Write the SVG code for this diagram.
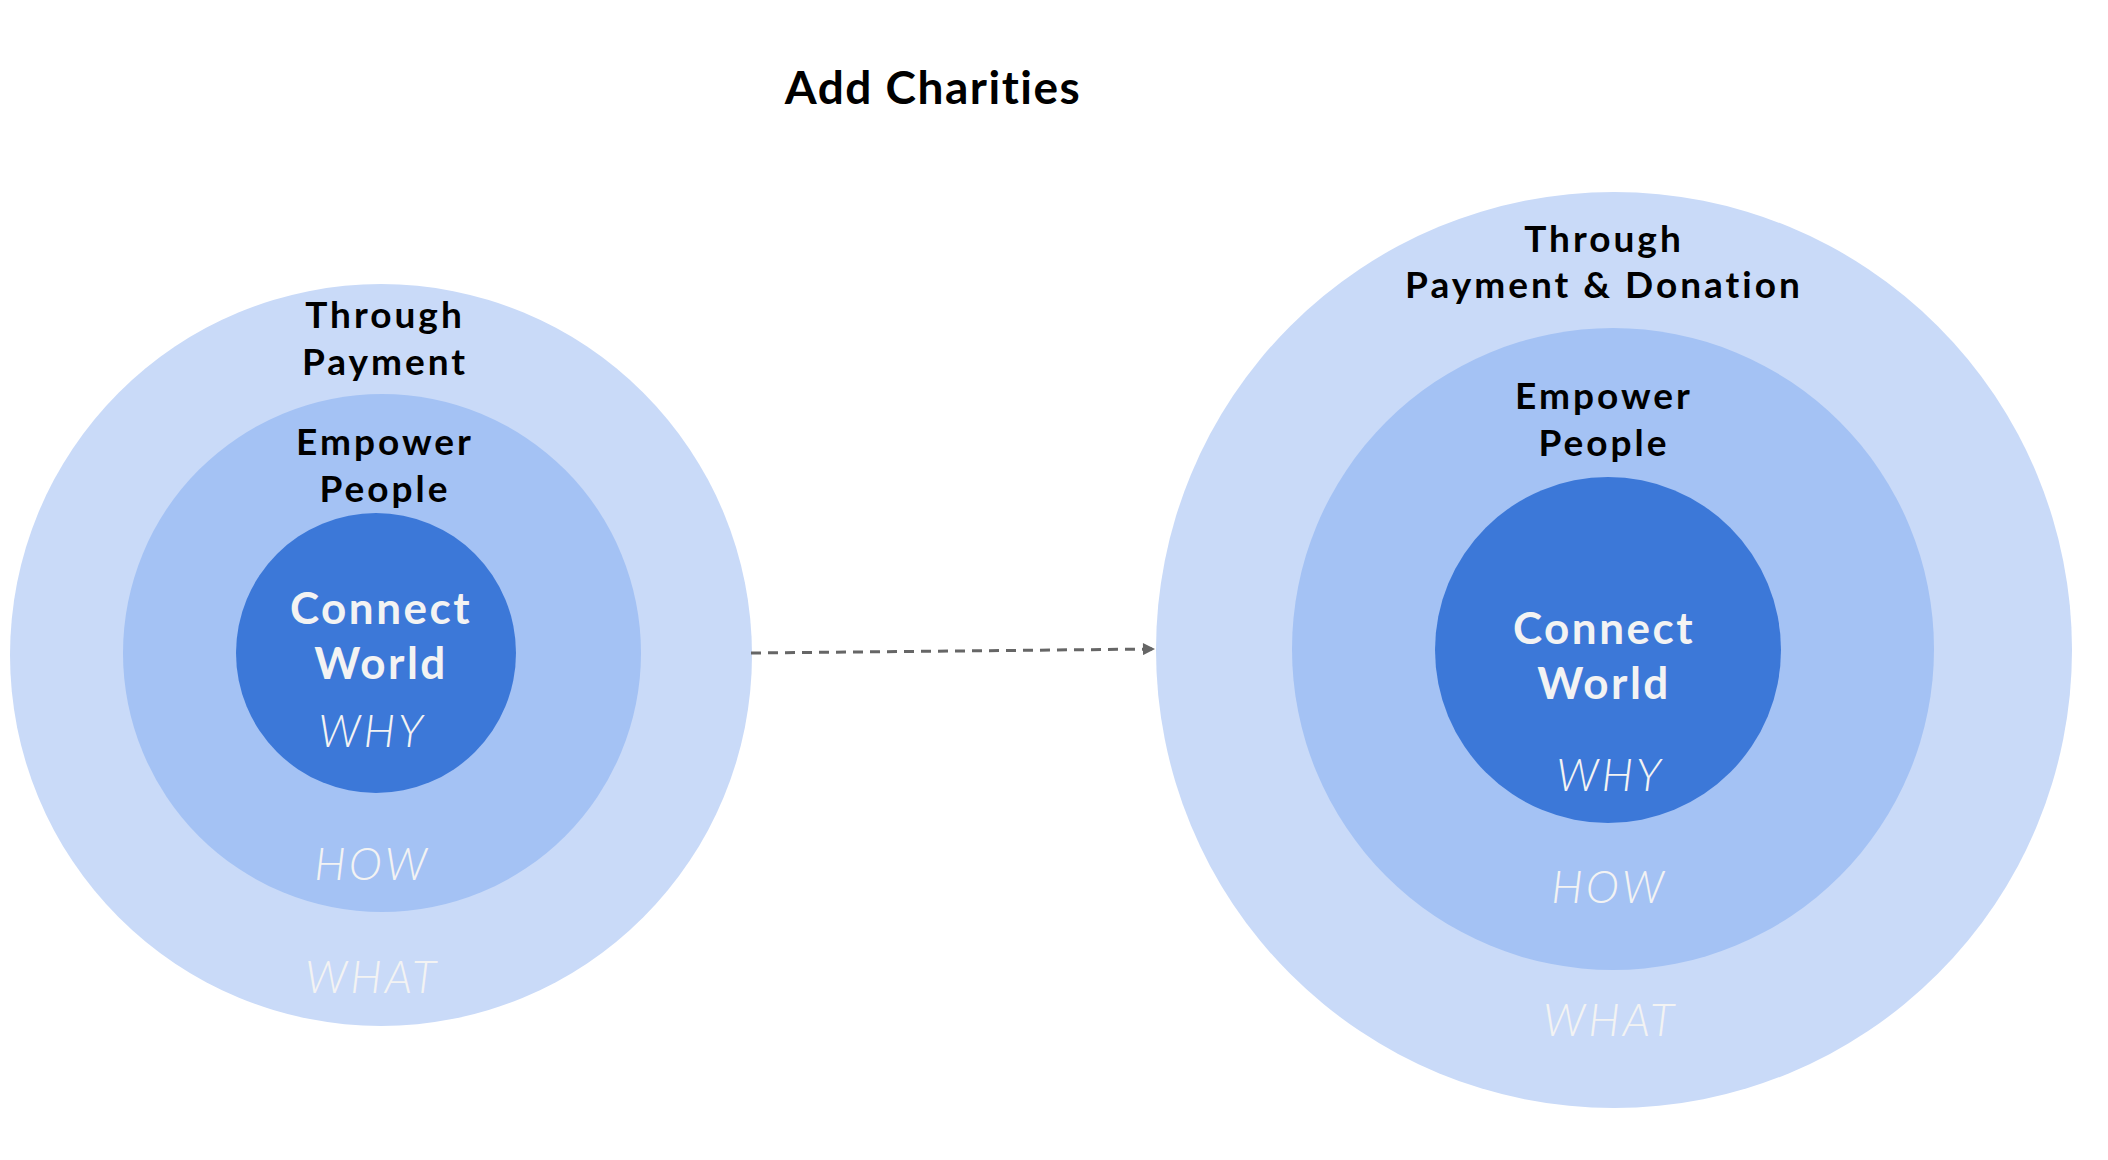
<svg xmlns="http://www.w3.org/2000/svg" width="2108" height="1160" viewBox="0 0 2108 1160">
<defs>
<style>
.outer{fill:#c9daf8}
.mid{fill:#a4c2f4}
.core{fill:#3c78d8}
.lbl{font-family:"Lato","Noto Sans",sans-serif;font-weight:700;font-size:37px;letter-spacing:3px;fill:#000;text-anchor:middle}
.core-t{font-family:"Lato","Noto Sans",sans-serif;font-weight:700;font-size:44px;letter-spacing:2.5px;fill:#f3f3f3;text-anchor:middle}
.tag{font-family:"Lato","Noto Sans",sans-serif;font-weight:300;font-style:italic;font-size:45px;letter-spacing:3px;fill:#f3f3f3;text-anchor:middle}
.title{font-family:"Lato","Noto Sans",sans-serif;font-weight:700;font-size:46px;letter-spacing:1.5px;fill:#000;text-anchor:middle}
.conn{fill:none;stroke:#666;stroke-width:3;stroke-dasharray:10 7}
</style>
<marker id="arrow" viewBox="0 0 10 10" refX="10" refY="5" markerWidth="5" markerHeight="4" markerUnits="strokeWidth" orient="auto">
<path d="M0,0 L10,5 L0,10 z" fill="#666"/>
</marker>
</defs>
<rect width="2108" height="1160" fill="#fff"/>
<g id="title"><text class="title" x="933" y="104">Add Charities</text></g>
<g id="left-what"><circle class="outer" cx="381" cy="655" r="371"/>
<text class="lbl" x="385" y="328">Through</text><text class="lbl" x="385" y="375">Payment</text>
<text class="tag" x="372" y="993">WHAT</text></g>
<g id="left-how"><circle class="mid" cx="382" cy="653" r="259"/>
<text class="lbl" x="385" y="455">Empower</text><text class="lbl" x="385" y="502">People</text>
<text class="tag" x="372" y="880">HOW</text></g>
<g id="left-why"><circle class="core" cx="376" cy="653" r="140"/>
<text class="core-t" x="381" y="624">Connect</text><text class="core-t" x="381" y="679">World</text>
<text class="tag" x="372" y="747">WHY</text></g>
<g id="right-what"><circle class="outer" cx="1614" cy="650" r="458"/>
<text class="lbl" x="1604" y="252">Through</text><text class="lbl" x="1604" y="298">Payment &amp; Donation</text>
<text class="tag" x="1610" y="1036">WHAT</text></g>
<g id="right-how"><circle class="mid" cx="1613" cy="649" r="321"/>
<text class="lbl" x="1604" y="409">Empower</text><text class="lbl" x="1604" y="456">People</text>
<text class="tag" x="1609" y="903">HOW</text></g>
<g id="right-why"><circle class="core" cx="1608" cy="650" r="173"/>
<text class="core-t" x="1604" y="644">Connect</text><text class="core-t" x="1604" y="699">World</text>
<text class="tag" x="1610" y="791">WHY</text></g>
<g id="connectors"><path class="conn" d="M751,653 L1155,649" marker-end="url(#arrow)"/></g>
</svg>
